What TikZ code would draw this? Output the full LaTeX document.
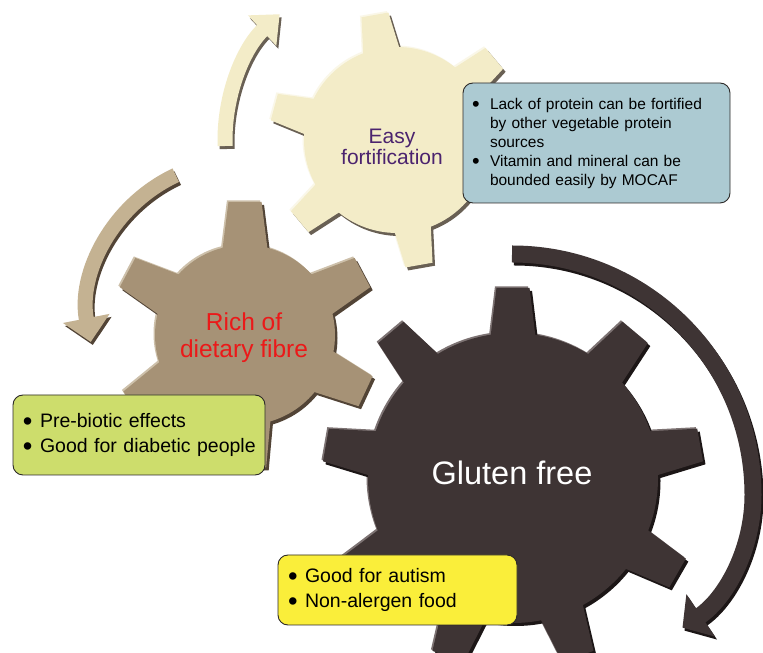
\documentclass[tikz,border=0pt]{standalone}
\usepackage{fontspec}
\setmainfont{Liberation Sans}
\usepackage{graphicx}
\usepackage{tikz}
\usetikzlibrary{arrows.meta}
\usepackage{xcolor}
\definecolor{creamFace}{RGB}{243, 236, 200}
\definecolor{creamShade}{RGB}{105, 96, 84}
\definecolor{creamLight}{RGB}{250, 247, 232}
\definecolor{tanFace}{RGB}{166, 146, 118}
\definecolor{tanShade}{RGB}{82, 68, 54}
\definecolor{tanLight}{RGB}{205, 192, 170}
\definecolor{darkFace}{RGB}{62, 52, 52}
\definecolor{darkShade}{RGB}{28, 22, 22}
\definecolor{darkLight}{RGB}{125, 115, 115}
\definecolor{arrowTan}{RGB}{196, 178, 146}
\definecolor{boxBlue}{RGB}{172, 202, 210}
\definecolor{boxGreen}{RGB}{205, 221, 108}
\definecolor{boxYellow}{RGB}{250, 238, 58}
\definecolor{boxLine}{RGB}{45, 42, 40}
\definecolor{labelPurple}{RGB}{75, 35, 110}
\definecolor{labelRed}{RGB}{235, 25, 25}

% one gear outline: body radius, tip radius, half tooth width, tooth angles
\newcommand{\gearbody}[4]{%
  \fill (0,0) circle[radius=#1];
  \foreach \a in {#4}
    \fill[rotate=\a] (#1-8,-#3) -- (#2,-0.72*#3) -- (#2,0.72*#3) -- (#1-8,#3) -- cycle;
}
% gear with bevel: centre, body r, tip r, half width, angles, face, shade, light
\newcommand{\drawgear}[8]{%
  \begin{scope}[shift={(#1)}]
    \begin{scope}[shift={(-1.5,1.5)}, color=#8]\gearbody{#2}{#3}{#4}{#5}\end{scope}
    \begin{scope}[shift={(2.5,-3)}, color=#7]\gearbody{#2}{#3}{#4}{#5}\end{scope}
    \begin{scope}[color=#6]\gearbody{#2}{#3}{#4}{#5}\end{scope}
  \end{scope}}
\newcommand{\bul}[1]{\makebox[#1][l]{\raisebox{-0.32ex}{\scalebox{1.4}{\textbullet}}}}

\begin{document}
\begin{tikzpicture}[x=1pt, y=1pt,
  flow/.style={line width=#1},
  gearlabel/.style={align=center, inner sep=0pt},
  infobox/.style={draw=boxLine, line width=0.9pt, rounded corners=10pt,
    align=left, inner ysep=3pt}]
  \useasboundingbox[fill=white] (0,0) rectangle (763,653);

  \coordinate (gearA) at (397,513);
  \coordinate (gearB) at (245,318);
  \coordinate (gearC) at (513,175);
  \coordinate (turnB) at (240,340);
  \coordinate (turnC) at (512,158);

  % curved arrows
  \draw[flow=15, creamShade, shift={(gearA)}, xshift=2pt, yshift=-3pt,
    -{Triangle[width=40pt, length=24pt]}]
    (182:172) arc[start angle=182, end angle=133, radius=172];
  \draw[flow=15, creamFace, shift={(gearA)},
    -{Triangle[width=40pt, length=24pt]}]
    (182:172) arc[start angle=182, end angle=133, radius=172];

  \draw[flow=15, tanShade, shift={(turnB)}, xshift=2pt, yshift=-3pt,
    -{Triangle[width=46pt, length=24pt]}]
    (115:152) arc[start angle=115, end angle=191, radius=152];
  \draw[flow=15, arrowTan, shift={(turnB)},
    -{Triangle[width=46pt, length=24pt]}]
    (115:152) arc[start angle=115, end angle=191, radius=152];

  \draw[flow=17, darkShade, shift={(turnC)}, xshift=2pt, yshift=-3pt,
    -{Triangle[width=50pt, length=22pt]}]
    (90:241) arc[start angle=90, end angle=0, radius=241]
    arc[start angle=0, end angle=-56, radius=160];
  \draw[flow=17, darkFace, shift={(turnC)},
    -{Triangle[width=50pt, length=22pt]}]
    (90:241) arc[start angle=90, end angle=0, radius=241]
    arc[start angle=0, end angle=-56, radius=160];

  % gears
  \drawgear{gearA}{93}{127}{19}{40,100,165,220,280,340}{creamFace}{creamShade}{creamLight}
  \drawgear{gearB}{90}{133}{23}{28,90,152,212,272,335}{tanFace}{tanShade}{tanLight}
  \drawgear{gearC}{145}{190}{23}{10,50,90,130,170,210,250,290,330}{darkFace}{darkShade}{darkLight}

  \node[gearlabel, labelPurple, font=\fontsize{21}{21}\selectfont] (easy) at (392,506)
    {Easy\\fortification};
  \node[gearlabel, labelRed, font=\fontsize{24.5}{27}\selectfont] (fibre) at (244,315)
    {Rich of\\dietary fibre};
  \node[gearlabel, white, font=\fontsize{32.5}{36}\selectfont] (gluten) at (512,180)
    {Gluten free};

  % info boxes
  \node[infobox, fill=boxBlue, minimum width=267pt, minimum height=120pt, inner xsep=7pt,
    text width=253pt, font=\fontsize{15.5}{19}\selectfont] (fortbox) at (596.5,510)
    {\hspace*{2pt}\bul{18pt}Lack of protein can be fortified\\
     \hspace*{20pt}by other vegetable protein\\
     \hspace*{20pt}sources\\
     \hspace*{2pt}\bul{18pt}Vitamin and mineral can be\\
     \hspace*{20pt}bounded easily by MOCAF};
  \node[infobox, fill=boxGreen, minimum width=252pt, minimum height=80pt, inner xsep=6pt,
    text width=240pt, font=\fontsize{19.5}{25}\selectfont] (fibrebox) at (139,218)
    {\hspace*{4pt}\bul{17pt}Pre-biotic effects\\
     \hspace*{4pt}\bul{17pt}Good for diabetic people};
  \node[infobox, fill=boxYellow, minimum width=239pt, minimum height=70pt, inner xsep=6pt,
    text width=227pt, font=\fontsize{19.5}{25}\selectfont] (glutenbox) at (397.5,63)
    {\hspace*{4pt}\bul{17pt}Good for autism\\
     \hspace*{4pt}\bul{17pt}Non-alergen food};
\end{tikzpicture}
\end{document}
